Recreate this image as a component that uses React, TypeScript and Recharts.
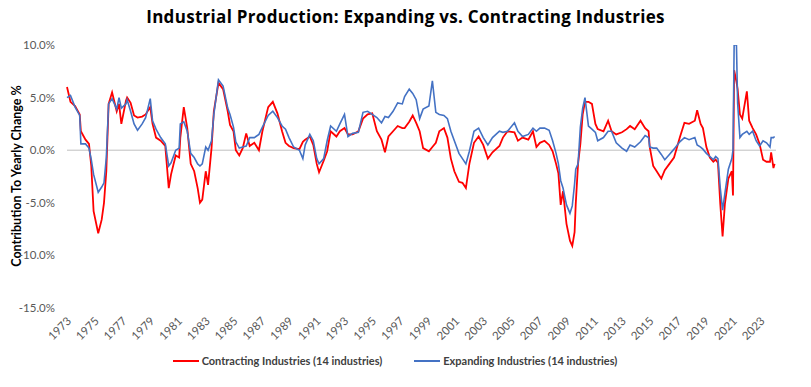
import React from 'react';
import { LineChart, Line, XAxis, YAxis, ReferenceLine, Legend } from 'recharts';

// month of each reading (YYYY-MM)
const months = [
  '1973-01', '1973-04', '1973-08', '1973-12', '1974-01', '1974-05', '1974-08', '1974-10', '1974-12', '1975-04',
  '1975-07', '1975-09', '1975-11', '1976-01', '1976-04', '1976-08', '1976-10', '1976-12', '1977-04', '1977-05',
  '1977-08', '1977-11', '1978-02', '1978-06', '1978-09', '1979-01', '1979-03', '1979-06', '1979-10', '1980-02',
  '1980-05', '1980-07', '1980-11', '1981-02', '1981-03', '1981-06', '1981-09', '1981-12', '1982-03', '1982-06',
  '1982-08', '1982-10', '1983-01', '1983-03', '1983-06', '1983-08', '1983-12', '1984-04', '1984-08', '1984-10',
  '1985-01', '1985-03', '1985-06', '1985-09', '1985-12', '1986-03', '1986-07', '1986-11', '1987-02', '1987-07',
  '1987-11', '1988-03', '1988-07', '1988-10', '1989-01', '1989-05', '1989-10', '1990-01', '1990-03', '1990-07',
  '1990-10', '1991-01', '1991-03', '1991-07', '1991-10', '1992-01', '1992-06', '1992-09', '1993-01', '1993-04',
  '1993-08', '1994-01', '1994-05', '1994-09', '1995-01', '1995-05', '1995-09', '1995-12', '1996-03', '1996-07',
  '1996-11', '1997-03', '1997-05', '1997-09', '1997-12', '1998-03', '1998-06', '1998-09', '1999-02', '1999-05',
  '1999-08', '1999-11', '2000-03', '2000-06', '2000-09', '2000-12', '2001-04', '2001-07', '2001-10', '2002-01',
  '2002-05', '2002-09', '2003-01', '2003-05', '2003-09', '2004-03', '2004-06', '2004-10', '2005-04', '2005-07',
  '2005-11', '2006-04', '2006-08', '2006-11', '2007-02', '2007-06', '2007-10', '2008-01', '2008-04', '2008-06',
  '2008-08', '2008-10', '2009-01', '2009-04', '2009-06', '2009-08', '2009-09', '2009-11', '2010-01', '2010-03',
  '2010-05', '2010-08', '2010-11', '2011-02', '2011-04', '2011-09', '2012-01', '2012-04', '2012-08', '2013-01',
  '2013-05', '2013-08', '2013-12', '2014-05', '2014-09', '2014-12', '2015-01', '2015-04', '2015-07', '2015-11',
  '2016-02', '2016-06', '2016-10', '2017-03', '2017-07', '2017-11', '2018-04', '2018-06', '2018-09', '2018-11',
  '2019-02', '2019-05', '2019-08', '2019-10', '2019-12', '2020-02', '2020-04', '2020-06', '2020-09', '2020-12',
  '2021-01', '2021-02', '2021-04', '2021-05', '2021-07', '2021-09', '2022-01', '2022-03', '2022-06', '2022-09',
  '2022-12', '2023-03', '2023-06', '2023-09', '2023-10', '2023-12', '2024-01',
];

const contracting = [
  6.0, 4.6, 4.2, 3.4, 1.8, 1.0, 0.6, -1.5, -5.8, -7.9,
  -6.6, -5.0, -2.0, 4.4, 5.5, 3.7, 4.4, 2.5, 4.7, 5.0,
  4.5, 3.3, 3.1, 3.2, 3.4, 4.1, 2.5, 1.2, 0.9, 0.4,
  -3.6, -2.3, -0.5, -0.7, 1.2, 4.1, 2.1, -1.3, -2.0, -3.6,
  -5.0, -4.7, -2.0, -3.3, 0.2, 3.7, 6.4, 5.8, 3.7, 2.4,
  1.8, 0.0, -0.5, 0.2, 1.6, 0.4, 0.7, 0.0, 1.8, 4.1,
  4.6, 3.5, 1.8, 0.7, 0.4, 0.2, 0.1, 0.8, 1.0, 1.3,
  0.5, -1.3, -2.1, -1.0, -0.1, 1.8, 1.3, 1.8, 2.1, 1.5,
  1.5, 1.8, 3.0, 3.4, 3.5, 1.8, 1.0, -0.2, 1.3, 1.8,
  2.3, 2.1, 2.1, 2.7, 3.3, 2.6, 1.8, 0.2, -0.1, 0.3,
  0.7, 1.8, 2.1, 1.2, -0.8, -2.0, -3.0, -3.1, -3.6, -1.3,
  0.7, 1.3, 0.5, -0.8, -0.2, 0.4, 1.2, 1.8, 1.7, 0.9,
  1.2, 1.0, 1.8, 0.3, 0.7, 0.9, 0.5, -0.1, -1.3, -2.2,
  -5.2, -3.9, -7.0, -8.6, -9.1, -7.8, -5.1, -1.3, 0.6, 3.4,
  4.6, 4.6, 4.4, 2.5, 2.0, 1.8, 2.8, 1.8, 1.5, 1.7,
  2.0, 2.3, 2.0, 2.8, 2.1, 1.8, 0.3, -1.5, -2.0, -2.7,
  -1.9, -1.3, -0.7, 1.2, 2.6, 2.5, 2.8, 3.8, 2.5, 2.1,
  0.3, -0.7, -1.1, -0.9, -1.2, -5.1, -8.2, -5.1, -2.7, -2.0,
  -4.3, 7.6, 6.5, 5.8, 3.4, 3.0, 5.6, 2.8, 2.1, 1.5,
  0.6, -0.9, -1.1, -1.1, -0.2, -1.7, -1.3,
];

const expanding = [
  5.0, 5.2, 4.1, 3.3, 0.6, 0.6, 0.2, -0.9, -2.3, -4.0,
  -3.5, -3.1, -0.7, 4.4, 4.9, 3.9, 5.0, 4.0, 4.4, 4.8,
  3.7, 2.5, 1.9, 2.5, 3.1, 4.9, 2.8, 2.0, 1.2, 0.6,
  -1.5, -1.2, 0.0, 0.2, 2.5, 2.7, 1.8, -0.3, -0.7, -1.3,
  -1.5, -1.3, 0.3, 0.0, 0.9, 3.4, 6.7, 6.1, 4.0, 3.4,
  2.2, 0.8, 0.2, 0.3, 0.4, 1.2, 1.2, 1.5, 2.2, 3.3,
  3.7, 3.1, 2.3, 2.0, 1.2, 0.3, 0.0, -0.8, 0.5, 1.5,
  0.9, -0.8, -1.3, -0.8, 0.9, 2.3, 1.8, 2.5, 3.4, 1.3,
  1.6, 1.7, 3.6, 3.7, 3.4, 3.1, 2.6, 3.2, 3.1, 3.7,
  4.5, 4.4, 5.1, 5.8, 5.4, 4.8, 3.0, 3.9, 4.2, 6.6,
  3.6, 3.4, 3.3, 3.0, 1.8, 0.9, -0.3, -0.8, -1.3, -0.1,
  1.8, 2.1, 1.2, 0.5, 1.2, 1.8, 1.7, 1.8, 2.6, 1.8,
  1.3, 1.5, 2.1, 1.8, 2.1, 2.1, 1.9, 0.9, -0.3, -1.3,
  -2.9, -3.6, -5.2, -6.0, -5.3, -3.2, -1.8, -1.3, 2.2, 4.0,
  5.0, 2.3, 2.0, 1.7, 0.9, 1.2, 1.8, 1.8, 0.7, 0.2,
  -0.1, 0.5, 0.3, 0.8, 1.4, 1.2, 0.3, 0.2, 0.2, -0.4,
  -0.9, -0.4, 0.1, 0.8, 1.2, 1.0, 1.2, 0.5, 0.3, 0.1,
  -0.3, -0.6, -0.9, -0.6, -0.8, -3.6, -5.7, -4.1, -1.8, -0.8,
  0.0, 10.0, 10.0, 4.5, 1.2, 1.5, 1.8, 1.5, 1.8, 0.9,
  0.4, 0.9, 0.7, 0.3, 1.2, 1.2, 1.3,
];

const yearTicks = [
  1973, 1975, 1977, 1979, 1981, 1983, 1985, 1987, 1989, 1991, 1993, 1995, 1997,
  1999, 2001, 2003, 2005, 2007, 2009, 2011, 2013, 2015, 2017, 2019, 2021, 2023,
];
const pctTicks = [-15, -10, -5, 0, 5, 10];

const data = months.map((m, i) => {
  const [y, mo] = m.split('-').map(Number);
  return { t: y + (mo - 1) / 12, contracting: contracting[i], expanding: expanding[i] };
});

const FONT = 'Lato, "Open Sans", sans-serif';

const YearTick = ({ x, y, payload }: any) => (
  <g transform={`translate(${x + 2},${y + 3})`}>
    <text textAnchor="end" transform="rotate(-45)" dy="0.35em" fill="#595959" fontSize={11.5} fontFamily={FONT}>
      {payload.value}
    </text>
  </g>
);

const LegendContent = () => (
  <div style={{ display: 'flex', justifyContent: 'center', gap: 32, fontFamily: FONT, fontSize: 11, fontWeight: 700, color: '#404040', marginTop: 6, paddingLeft: 14 }}>
    <span style={{ display: 'flex', alignItems: 'center' }}>
      <span style={{ width: 26, height: 2, background: '#FF0000', marginRight: 3 }} />
      Contracting Industries (14 industries)
    </span>
    <span style={{ display: 'flex', alignItems: 'center' }}>
      <span style={{ width: 26, height: 2, background: '#4472C4', marginRight: 3 }} />
      Expanding Industries (14 industries)
    </span>
  </div>
);

export default function App() {
  return (
    <div style={{ position: 'absolute', left: 0, top: 0, width: 811, height: 387, background: '#fff' }}>
      <div style={{ position: 'absolute', left: 0, top: 5, width: 811, textAlign: 'center', fontFamily: '"Open Sans", sans-serif', fontSize: 17, letterSpacing: 0.3, fontWeight: 700, color: '#000' }}>
        Industrial Production: Expanding vs. Contracting Industries
      </div>
      <LineChart width={811} height={387} data={data} margin={{ top: 45, right: 35, left: 0, bottom: 20 }}>
        <XAxis
          dataKey="t"
          type="number"
          domain={[1973, 2024.1]}
          ticks={yearTicks}
          interval={0}
          axisLine={false}
          tickLine={false}
          height={40}
          tick={<YearTick />}
        />
        <YAxis
          type="number"
          domain={[-15, 10]}
          ticks={pctTicks}
          allowDataOverflow
          width={67}
          axisLine={false}
          tickLine={false}
          tickMargin={6}
          tickFormatter={(v: number) => `${v.toFixed(1)}%`}
          tick={{ fill: '#595959', fontSize: 11.5, fontFamily: FONT }}
          label={() => (
            <text x={16} y={176} transform="rotate(-90 16 176)" textAnchor="middle" dominantBaseline="central" fontFamily={FONT} fontSize={12.5} fontWeight={700} fill="#000">
              Contribution To Yearly Change %
            </text>
          )}
        />
        <ReferenceLine y={0} stroke="#BFBFBF" strokeWidth={1} />
        <Legend verticalAlign="bottom" content={<LegendContent />} />
        <Line type="linear" dataKey="contracting" stroke="#FF0000" strokeWidth={1.8} dot={false} isAnimationActive={false} />
        <Line type="linear" dataKey="expanding" stroke="#4472C4" strokeWidth={1.6} dot={false} isAnimationActive={false} />
      </LineChart>
    </div>
  );
}
